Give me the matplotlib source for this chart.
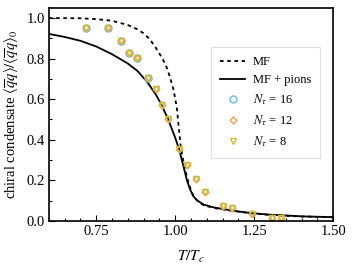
import matplotlib
matplotlib.use("Agg")
import matplotlib.pyplot as plt
from matplotlib.ticker import MultipleLocator

plt.rcParams['font.family'] = ['Liberation Serif', 'DejaVu Serif']
plt.rcParams['mathtext.fontset'] = 'stix'

# MF (dashed) curve
mf_T = [0.60, 0.65, 0.70, 0.75, 0.80, 0.85, 0.88, 0.90, 0.92, 0.94, 0.96, 0.975, 0.985, 0.995,
        1.005, 1.012, 1.018, 1.025, 1.032, 1.04, 1.05, 1.06, 1.075, 1.09, 1.12, 1.15, 1.20, 1.24, 1.30, 1.40, 1.50]
mf_y = [1.000, 1.000, 0.999, 0.995, 0.987, 0.966, 0.945, 0.925, 0.895, 0.850, 0.800, 0.750, 0.700, 0.645,
        0.560, 0.450, 0.360, 0.300, 0.250, 0.200, 0.150, 0.115, 0.092, 0.077, 0.064, 0.056, 0.045, 0.037, 0.029, 0.021, 0.017]

# MF + pions (solid) curve
pi_T = [0.60, 0.65, 0.70, 0.75, 0.80, 0.85, 0.88, 0.91, 0.94, 0.957, 0.978, 1.00, 1.013, 1.021, 1.03,
        1.037, 1.047, 1.058, 1.07, 1.09, 1.12, 1.15, 1.20, 1.24, 1.30, 1.40, 1.50]
pi_y = [0.922, 0.907, 0.888, 0.860, 0.822, 0.776, 0.740, 0.688, 0.620, 0.571, 0.500, 0.410, 0.350, 0.300, 0.245,
        0.200, 0.155, 0.120, 0.100, 0.080, 0.067, 0.058, 0.046, 0.038, 0.030, 0.022, 0.018]

# Lattice data
n16_T = [0.717, 0.788, 0.829, 0.854, 0.878, 0.914]
n16_y = [0.949, 0.949, 0.888, 0.829, 0.803, 0.706]

n12_T = [0.717, 0.788, 0.829, 0.854, 0.878, 0.914, 0.940, 0.957, 0.978, 1.013, 1.037, 1.066, 1.093, 1.150, 1.181, 1.243, 1.305, 1.336]
n12_y = [0.949, 0.949, 0.888, 0.829, 0.803, 0.706, 0.649, 0.571, 0.50, 0.353, 0.276, 0.204, 0.144, 0.074, 0.062, 0.034, 0.013, 0.013]

n8_T = n12_T
n8_y = n12_y

fig = plt.figure(figsize=(3.54, 2.66), dpi=100)
ax = fig.add_axes([0.138, 0.170, 0.803, 0.800])

ax.plot(mf_T, mf_y, color='black', linestyle=(0, (2, 2)), lw=1.3, label='MF')
ax.plot(pi_T, pi_y, color='black', linestyle='-', lw=1.3, label='MF + pions')
ax.plot(n16_T, n16_y, linestyle='none', marker='o', ms=5, mfc='none', mec='#6bb8e6', mew=1.0,
        label=r'$N_\tau$ = 16')
ax.plot(n12_T, n12_y, linestyle='none', marker='D', ms=3.5, mfc='none', mec='#f0a25a', mew=1.0,
        label=r'$N_\tau$ = 12')
ax.plot(n8_T, n8_y, linestyle='none', marker='v', ms=4.5, mfc='none', mec='#c8be3a', mew=1.0,
        label=r'$N_\tau$ = 8')

ax.set_xlim(0.6, 1.5)
ax.set_ylim(0.0, 1.05)
ax.set_xticks([0.75, 1.00, 1.25, 1.50])
ax.set_xticklabels(['0.75', '1.00', '1.25', '1.50'])
ax.set_yticks([0.0, 0.2, 0.4, 0.6, 0.8, 1.0])
ax.set_yticklabels(['0.0', '0.2', '0.4', '0.6', '0.8', '1.0'])
ax.xaxis.set_minor_locator(MultipleLocator(0.05))
ax.yaxis.set_minor_locator(MultipleLocator(0.1))
ax.tick_params(which='both', direction='in', top=False, right=False, labelsize=10.5, pad=3)
ax.tick_params(which='major', length=4, width=0.8)
ax.tick_params(which='minor', length=2, width=0.8)
for s in ax.spines.values():
    s.set_linewidth(1.2)

ax.set_xlabel(r'$T/T_c$', fontsize=11, labelpad=8)
ax.set_ylabel(r'chiral condensate $\langle\overline{q}q\rangle/\langle\overline{q}q\rangle_0$', fontsize=10.5, labelpad=4)

leg = ax.legend(loc='upper right', bbox_to_anchor=(0.975, 0.845), fontsize=9, frameon=True,
                fancybox=False, edgecolor='#d8d8d8', handlelength=2.0, handletextpad=0.6,
                labelspacing=0.5, borderpad=0.7)
leg.get_frame().set_linewidth(0.8)

fig.savefig('out.png', dpi=100)
